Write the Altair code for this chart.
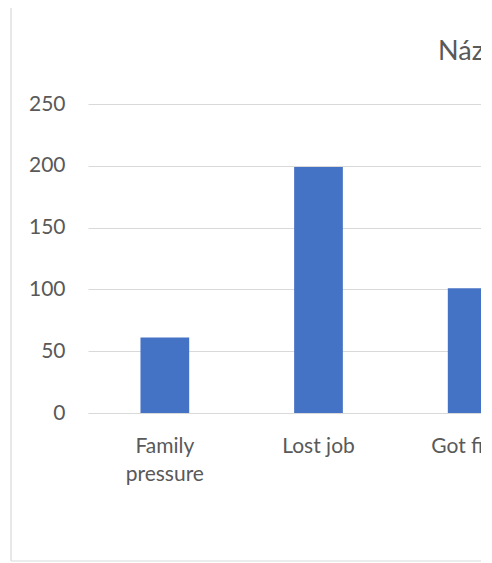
import altair as alt
import pandas as pd

categories = ["Family pressure", "Lost job", "Got fired"]
values = [61, 199, 101]
y_ticks = [0, 50, 100, 150, 200, 250]
title_text = "Název grafu"

df = pd.DataFrame({"reason": categories, "count": values})

FONT = "Lato"
TEXT = "#595959"
GRID = "#d9d9d9"
BAR = "#4472C4"

bars = alt.Chart(df).mark_bar(color=BAR, clip=True).encode(
    x=alt.X(
        "reason:N",
        sort=categories,
        scale=alt.Scale(range=[0, 461], paddingInner=0.683, paddingOuter=0.3415),
        axis=alt.Axis(
            title=None, labelAngle=0, ticks=False, domain=False, grid=False,
            labelFontSize=21, labelColor=TEXT, labelFont=FONT,
            labelPadding=22, labelLineHeight=28,
            labelExpr="length(datum.label) > 10 ? split(datum.label, ' ') : datum.label",
        ),
    ),
    y=alt.Y(
        "count:Q",
        scale=alt.Scale(domain=[0, 250], nice=False),
        axis=alt.Axis(
            title=None, values=y_ticks, ticks=False, domain=False,
            grid=True, gridColor=GRID, gridWidth=1.2,
            labelFontSize=21, labelColor=TEXT, labelFont=FONT, labelPadding=23,
        ),
    ),
)

single = alt.Data(values=[{"title": title_text}])

title_mark = alt.Chart(single).mark_text(
    align="left", baseline="alphabetic", fontSize=27, fontWeight="normal",
    font=FONT, color=TEXT,
).encode(x=alt.value(350), y=alt.value(-44), text=alt.Text("title:N"))

left_border = alt.Chart(single).mark_rule(color=GRID, strokeWidth=1.2).encode(
    x=alt.value(-77), y=alt.value(-96), y2=alt.value(457)
)
bottom_border = alt.Chart(single).mark_rule(color=GRID, strokeWidth=1.2).encode(
    x=alt.value(-77), x2=alt.value(393), y=alt.value(457)
)

chart = alt.layer(bars, title_mark, left_border, bottom_border).properties(
    width=393,
    height=309,
    padding={"left": 80, "top": 96, "right": 0, "bottom": 150},
    autosize=alt.AutoSizeParams(type="none"),
    background="white",
).configure_view(stroke=None)

chart.save("out.html", embed_options={"renderer": "svg", "actions": False})
